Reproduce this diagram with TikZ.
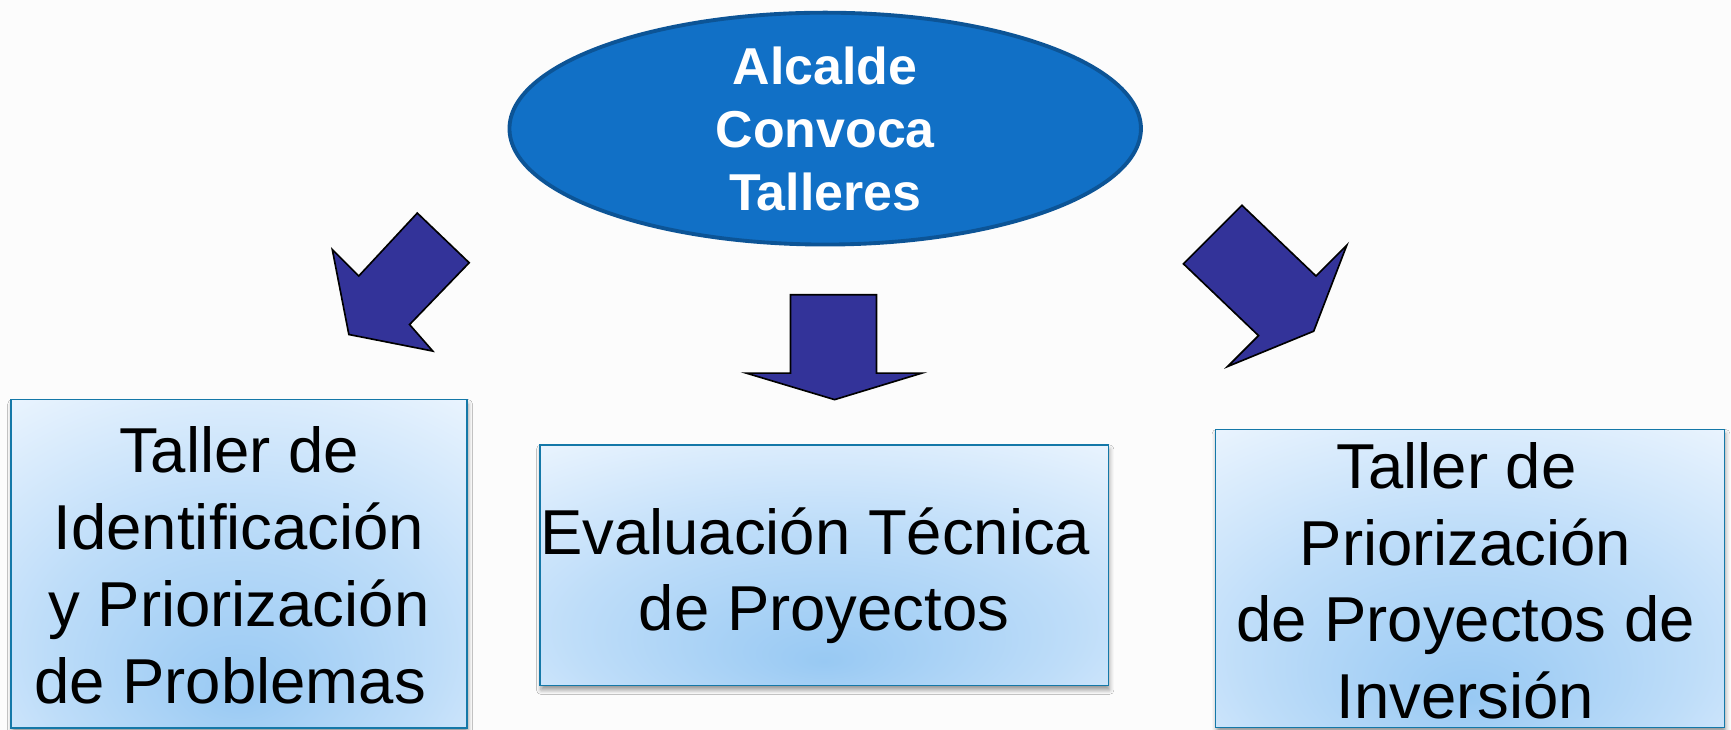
\documentclass[tikz,border=0pt]{standalone}
\usepackage{fontspec}
\setmainfont{Liberation Sans}
\usetikzlibrary{shadows,shadows.blur,shapes.geometric}
\definecolor{bg}{RGB}{252,252,252}
\definecolor{ellfill}{RGB}{17,112,198}
\definecolor{elldraw}{RGB}{12,84,150}
\definecolor{arrowfill}{RGB}{51,51,153}
\definecolor{boxdraw}{RGB}{20,120,168}
\definecolor{boxinner}{RGB}{152,201,243}
\definecolor{boxmid}{RGB}{190,221,249}
\definecolor{boxouter}{RGB}{234,244,254}
\pgfdeclareradialshading{boxshade}{\pgfpoint{0bp}{-20bp}}{color(0bp)=(boxinner); color(22bp)=(boxmid); color(42bp)=(boxouter); color(70bp)=(boxouter)}
\tikzset{
  boxshape/.style={rectangle, draw=boxdraw, line width=1.5pt, shading=boxshade, shade, inner sep=0pt,
    blur shadow={shadow xshift=1pt, shadow yshift=-4pt, shadow blur radius=4pt, shadow opacity=40}},
  boxtext/.style={inner sep=0pt, align=center, font=\fontsize{57.5}{69.5}\selectfont, text=black},
  blockarrow/.style={fill=arrowfill, draw=black, line width=1.5pt, line join=miter},
  headnode/.style={ellipse, fill=ellfill, draw=elldraw, line width=3.5pt, minimum width=572pt, minimum height=194pt,
    inner sep=0pt, text=white, align=center, font=\bfseries\fontsize{47}{57}\selectfont}
}
\begin{document}
\begin{tikzpicture}[x=1pt,y=1pt]
  \fill[bg] (0,0) rectangle (1568,-661);
  \useasboundingbox (0,0) rectangle (1568,-661);

  % head ellipse
  \node[headnode] (head) at (747.5,-116.5) {Alcalde\\Convoca\\Talleres};

  % block arrows
  \draw[blockarrow] (378,-193) -- (425,-238) -- (371,-294) -- (392,-318) -- (316,-303)
     -- (301,-226) -- (325,-250) -- cycle;
  \draw[blockarrow] (716,-267) -- (794,-267) -- (794,-338) -- (835,-338) -- (756,-362)
     -- (676,-338) -- (716,-338) -- cycle;
  \draw[blockarrow] (1125,-186) -- (1192,-250) -- (1220,-222) -- (1190,-300) -- (1112,-332)
     -- (1140,-304) -- (1072,-239) -- cycle;

  % boxes
  \node[boxshape, minimum width=413pt, minimum height=297.5pt] (bL) at (216.5,-510.75) {};
  \node[boxshape, minimum width=515pt, minimum height=218pt] (bC) at (746.5,-512) {};
  \node[boxshape, minimum width=461pt, minimum height=270pt] (bR) at (1331.5,-524) {};

  % texts
  \node[boxtext] (tL) at (216.5,-512) {Taller de\\Identificación\\y Priorización\\de Problemas\hspace*{0.28em}};
  \node[boxtext] (tC) at (746.5,-521.5) {Evaluación Técnica\hspace*{0.28em}\\de Proyectos};
  \node[boxtext] (tR) at (1327.5,-526) {Taller de\hspace*{0.28em}\\Priorización\\de Proyectos de\hspace*{0.28em}\\Inversión};
\end{tikzpicture}
\end{document}
